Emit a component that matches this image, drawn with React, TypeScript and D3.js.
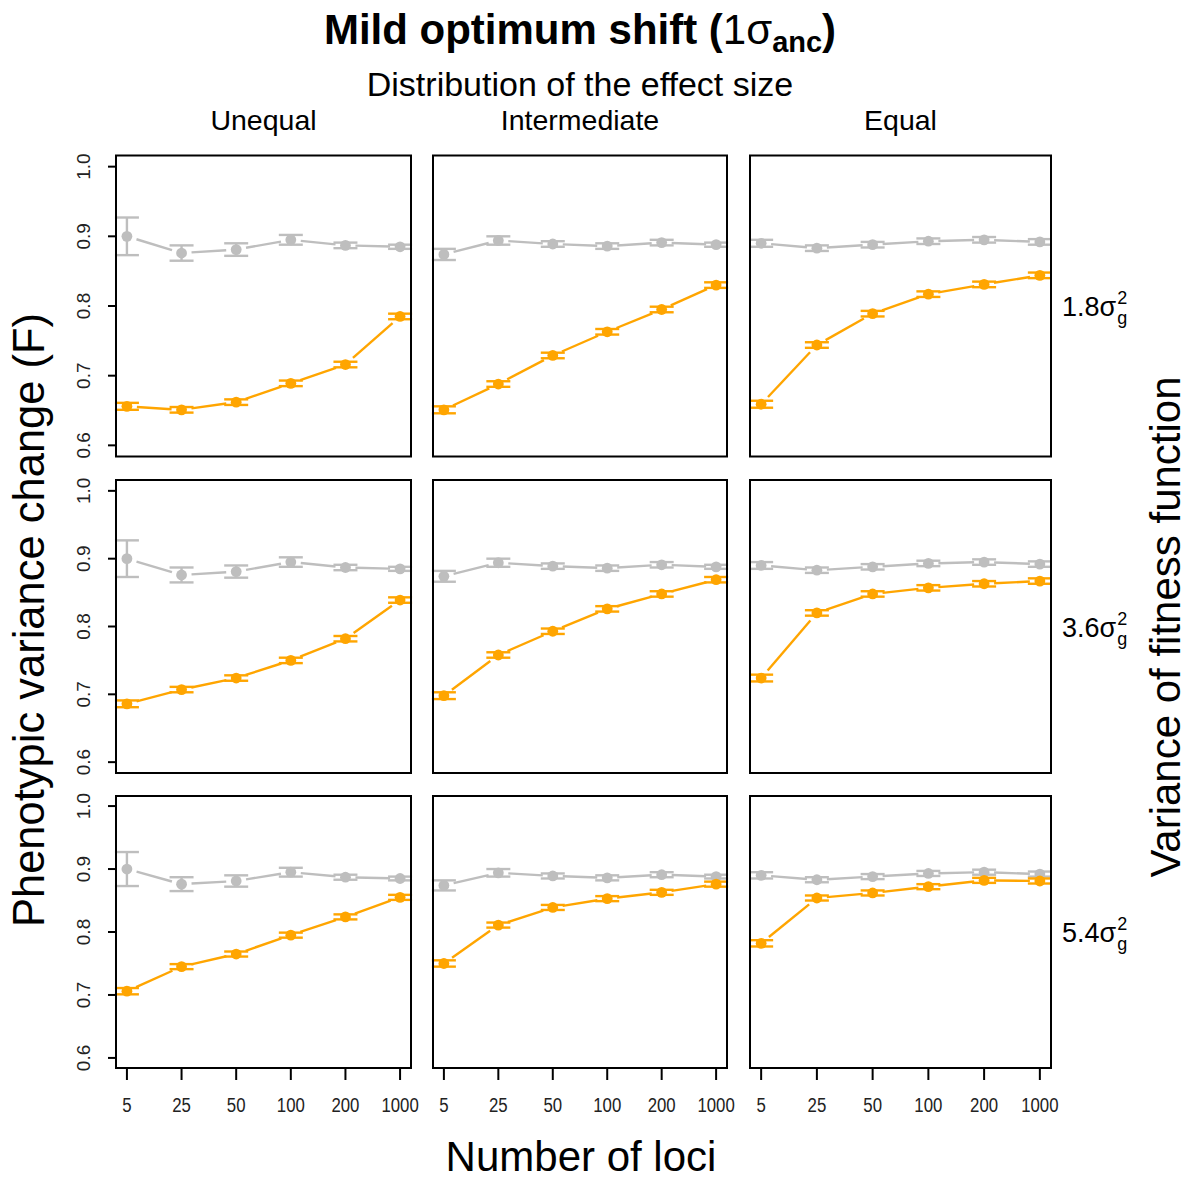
import React from "react";
import * as d3 from "d3";

// number of loci (x categories)
const lociLabels = ["5", "25", "50", "100", "200", "1000"];
// distribution of effect size (columns)
const effectLabels = ["Unequal", "Intermediate", "Equal"];
// variance of fitness function (rows), in units of sigma_g^2
const fitnessLabels = ["1.8", "3.6", "5.4"];
const yTickValues = [0.6, 0.7, 0.8, 0.9, 1.0];

// grey reference series, same in every row of a column
const greyUnequal = [0.9, 0.876, 0.881, 0.895, 0.887, 0.885];
const greyUnequalSe = [0.027, 0.011, 0.009, 0.007, 0.004, 0.003];
const greyIntermediate = [0.874, 0.894, 0.889, 0.886, 0.891, 0.888];
const greyIntermediateSe = [0.008, 0.006, 0.004, 0.004, 0.004, 0.003];
const greyEqual = [0.89, 0.883, 0.888, 0.893, 0.895, 0.892];
const greyEqualSe = [0.005, 0.004, 0.004, 0.004, 0.004, 0.004];

// orange series, one per panel
const orange18Unequal = [0.656, 0.651, 0.662, 0.689, 0.716, 0.785];
const orange18Intermediate = [0.651, 0.688, 0.729, 0.763, 0.795, 0.83];
const orange18Equal = [0.659, 0.744, 0.789, 0.817, 0.831, 0.844];
const orange36Unequal = [0.686, 0.707, 0.724, 0.75, 0.782, 0.839];
const orange36Intermediate = [0.698, 0.758, 0.793, 0.826, 0.848, 0.869];
const orange36Equal = [0.724, 0.82, 0.848, 0.857, 0.863, 0.867];
const orange54Unequal = [0.706, 0.745, 0.765, 0.795, 0.824, 0.855];
const orange54Intermediate = [0.75, 0.811, 0.839, 0.853, 0.863, 0.876];
const orange54Equal = [0.782, 0.854, 0.862, 0.872, 0.882, 0.881];
const orangeSe = [0.005, 0.004, 0.004, 0.004, 0.004, 0.004];

const greyCols = [
  { v: greyUnequal, se: greyUnequalSe },
  { v: greyIntermediate, se: greyIntermediateSe },
  { v: greyEqual, se: greyEqualSe },
];
const orangeRows = [
  [orange18Unequal, orange18Intermediate, orange18Equal],
  [orange36Unequal, orange36Intermediate, orange36Equal],
  [orange54Unequal, orange54Intermediate, orange54Equal],
];

const W = 1189;
const H = 1180;
const ORANGE = "#FFA500";
const GREY = "#BEBEBE";
const FONT = "'Liberation Sans', Arial, Helvetica, sans-serif";

// panel boxes
const colX = [
  [116, 411],
  [433, 727],
  [750, 1051],
];
const rowY = [
  [155.5, 456.5],
  [480, 773],
  [796, 1068],
];

const GAP = 10; // type="b" gap around points
const CAP = 12;

function gappedSegments(pts: [number, number][]) {
  const segs = [];
  for (let i = 0; i < pts.length - 1; i++) {
    const [x1, y1] = pts[i];
    const [x2, y2] = pts[i + 1];
    const dx = x2 - x1, dy = y2 - y1;
    const len = Math.hypot(dx, dy);
    if (len <= 2 * GAP) continue;
    const ux = dx / len, uy = dy / len;
    segs.push([x1 + ux * GAP, y1 + uy * GAP, x2 - ux * GAP, y2 - uy * GAP]);
  }
  return segs;
}

function Series({ x, y, vals, se, color }) {
  const pts: [number, number][] = vals.map((v, i) => [x(lociLabels[i]), y(v)]);
  return (
    <g>
      {gappedSegments(pts).map((s, i) => (
        <line key={"l" + i} x1={s[0]} y1={s[1]} x2={s[2]} y2={s[3]} stroke={color} strokeWidth={2.4} />
      ))}
      {vals.map((v, i) => {
        const px = x(lociLabels[i]);
        const lo = y(v - se[i]);
        const hi = y(v + se[i]);
        return (
          <g key={"e" + i} stroke={color} strokeWidth={2.4}>
            <line x1={px} x2={px} y1={lo} y2={hi} />
            <line x1={px - CAP} x2={px + CAP} y1={lo} y2={lo} />
            <line x1={px - CAP} x2={px + CAP} y1={hi} y2={hi} />
          </g>
        );
      })}
      {pts.map((p, i) => (
        <circle key={"p" + i} cx={p[0]} cy={p[1]} r={5.4} fill={color} />
      ))}
    </g>
  );
}

function Panel({ r, c }) {
  const [l, rt] = colX[c];
  const [t, b] = rowY[r];
  const x = d3.scalePoint().domain(lociLabels).range([l, rt]).padding(0.2);
  const y = d3.scaleLinear().domain([0.584, 1.016]).range([b, t]);
  const grey = greyCols[c];
  return (
    <g>
      <Series x={x} y={y} vals={grey.v} se={grey.se} color={GREY} />
      <Series x={x} y={y} vals={orangeRows[r][c]} se={orangeSe} color={ORANGE} />
      <rect x={l} y={t} width={rt - l} height={b - t} fill="none" stroke="#000" strokeWidth={2} />
      {c === 0 &&
        yTickValues.map((v) => (
          <g key={v}>
            <line x1={l} x2={l - 8} y1={y(v)} y2={y(v)} stroke="#000" strokeWidth={2} />
            <text
              transform={`translate(90,${y(v)}) rotate(-90)`}
              textAnchor="middle"
              fontSize={19}
              fill="#222"
            >
              {v.toFixed(1)}
            </text>
          </g>
        ))}
      {r === 2 &&
        lociLabels.map((d) => (
          <g key={d}>
            <line x1={x(d)} x2={x(d)} y1={b} y2={b + 12} stroke="#000" strokeWidth={2} />
            <text
              transform={`translate(${x(d)},1112) scale(0.8,1)`}
              textAnchor="middle"
              fontSize={21}
              fill="#222"
            >
              {d}
            </text>
          </g>
        ))}
      {r === 0 && (
        <text x={(l + rt) / 2} y={130} textAnchor="middle" fontSize={28.5}>
          {effectLabels[c]}
        </text>
      )}
      {c === 2 && (
        <text x={1062} y={(t + b) / 2 + 10} fontSize={27}>
          {fitnessLabels[r]}σ
          <tspan fontSize={18} dy={8} dx={1}>g</tspan>
          <tspan fontSize={18} dy={-20} dx={-10}>2</tspan>
        </text>
      )}
    </g>
  );
}

export default function App() {
  return (
    <svg
      width={W}
      height={H}
      style={{ position: "absolute", left: 0, top: 0, background: "#fff" }}
      fontFamily={FONT}
    >
      <rect width={W} height={H} fill="#fff" />
      <text x={580} y={44} textAnchor="middle" fontSize={42} fontWeight="bold">
        Mild optimum shift (<tspan fontWeight="normal">1σ</tspan>
        <tspan fontSize={29} dy={8}>anc</tspan>
        <tspan dy={-8}>)</tspan>
      </text>
      <text x={580} y={96} textAnchor="middle" fontSize={34}>
        Distribution of the effect size
      </text>
      {[0, 1, 2].map((r) => [0, 1, 2].map((c) => <Panel key={`${r}-${c}`} r={r} c={c} />))}
      <text x={581} y={1171} textAnchor="middle" fontSize={42}>
        Number of loci
      </text>
      <text transform="translate(44,620) rotate(-90)" textAnchor="middle" fontSize={43.5}>
        Phenotypic variance change (F)
      </text>
      <text transform="translate(1180,627) rotate(-90)" textAnchor="middle" fontSize={42}>
        Variance of fitness function
      </text>
    </svg>
  );
}
